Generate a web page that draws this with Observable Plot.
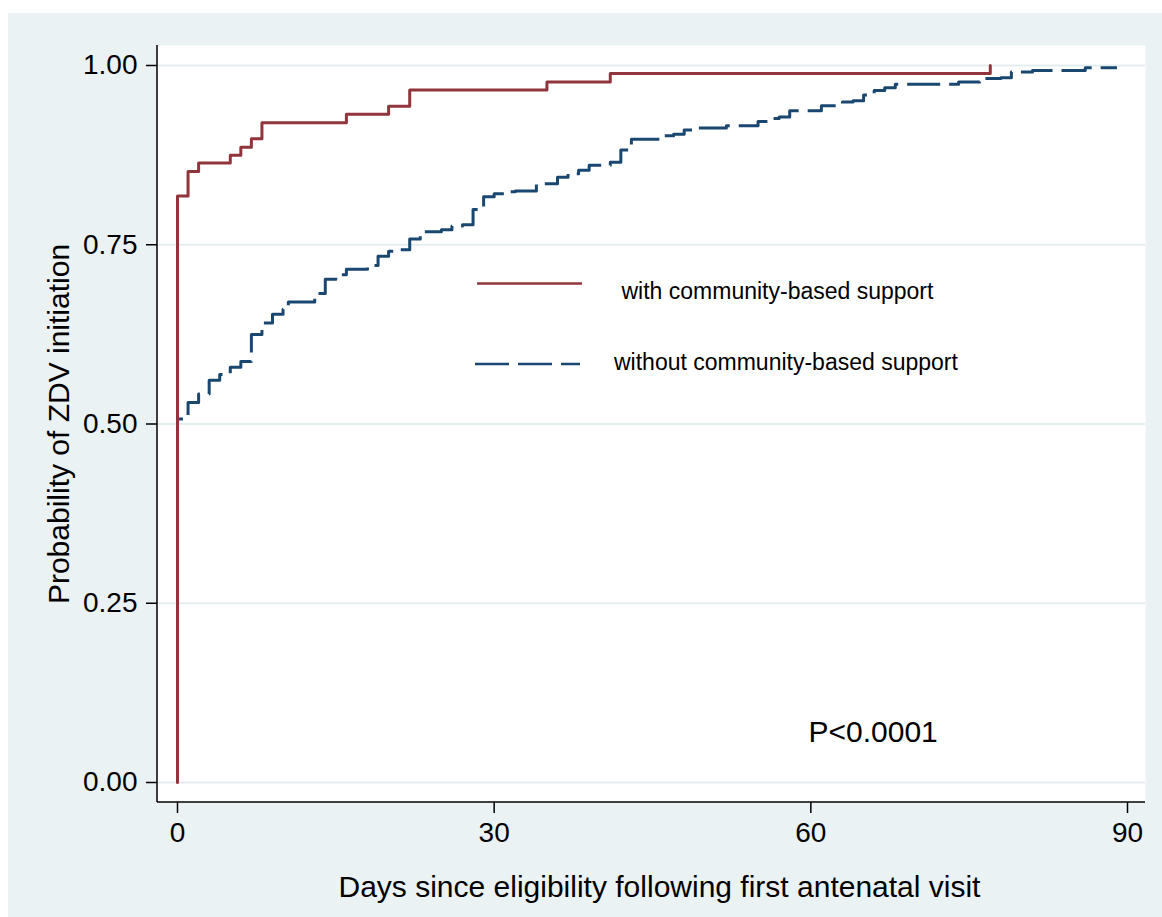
<!DOCTYPE html>
<html><head><meta charset="utf-8">
<script src="https://cdn.jsdelivr.net/npm/d3@7"></script>
<script src="https://cdn.jsdelivr.net/npm/@observablehq/plot@0.6"></script>
<style>
html,body{margin:0;padding:0;background:#fff;}
#chart{position:absolute;left:8px;top:13px;width:1154px;height:904px;background:#eaf2f3;}
#chart svg text{font-family:"Liberation Sans",Arial,Helvetica,sans-serif;}
</style></head><body><div id="chart"></div>
<script>
// Kaplan-Meier style cumulative probability of ZDV initiation
const withDays = [0, 0, 1, 2, 5, 6, 7, 8, 16, 20, 22, 35, 41, 77];
const withProb = [0, 0.818, 0.852, 0.864, 0.875, 0.886, 0.898, 0.920, 0.932, 0.943, 0.966, 0.977, 0.989, 1.000];

const withoutDays = [0, 0, 1, 2, 3, 4, 5, 6, 7, 8, 9, 10, 10.5, 13, 14, 15, 16, 18, 19, 20, 21, 22, 23, 25, 26, 27, 28, 29, 30, 31, 32, 34, 36, 37, 38, 39, 41, 42, 43, 46, 47, 48, 49, 52, 55, 56, 57, 58, 61, 63, 64, 65, 66, 67, 68, 74, 76, 78, 79, 81, 86, 89];
const withoutProb = [0, 0.507, 0.530, 0.542, 0.561, 0.569, 0.579, 0.587, 0.625, 0.641, 0.653, 0.660, 0.670, 0.682, 0.702, 0.708, 0.716, 0.721, 0.734, 0.741, 0.743, 0.758, 0.768, 0.771, 0.776, 0.778, 0.799, 0.817, 0.821, 0.824, 0.825, 0.835, 0.844, 0.849, 0.854, 0.861, 0.865, 0.882, 0.897, 0.902, 0.904, 0.910, 0.913, 0.916, 0.922, 0.926, 0.928, 0.937, 0.944, 0.949, 0.951, 0.959, 0.965, 0.969, 0.974, 0.977, 0.982, 0.983, 0.991, 0.993, 0.997, 0.997];

const xTicks = [0, 30, 60, 90];
const yTicks = [0, 0.25, 0.5, 0.75, 1];
const seriesLabels = ["with community-based support", "without community-based support"];
const xTitle = "Days since eligibility following first antenatal visit";
const yTitle = "Probability of ZDV initiation";
const annotation = "P<0.0001";

const RED = "#90353b", BLUE = "#1a476f";

const withData = withDays.map((d, i) => ({day: d, p: withProb[i]}));
const withoutData = withoutDays.map((d, i) => ({day: d, p: withoutProb[i]}));

const W = 1154, H = 904, mL = 149, mR = 17, mT = 32, mB = 115;

const chart = Plot.plot({
  width: W, height: H,
  marginLeft: mL, marginRight: mR, marginTop: mT, marginBottom: mB,
  insetLeft: 20, insetRight: 18, insetTop: 20, insetBottom: 20,
  style: {background: "transparent", fontFamily: "Liberation Sans, Arial, sans-serif", color: "black", overflow: "visible"},
  x: {domain: [0, 90]},
  y: {domain: [0, 1]},
  marks: [
    Plot.frame({fill: "white", stroke: null}),
    Plot.gridY(yTicks, {stroke: "#e4edee", strokeOpacity: 1, strokeWidth: 2}),
    Plot.line(withoutData, {x: "day", y: "p", curve: "step-after", stroke: BLUE, strokeWidth: 3, strokeDasharray: "33,9", strokeLinecap: "butt"}),
    Plot.line(withData, {x: "day", y: "p", curve: "step-after", stroke: RED, strokeWidth: 3}),
    Plot.axisY(yTicks, {tickFormat: d3.format(".2f"), tickSize: 11, tickPadding: 9, fontSize: 28, label: null, stroke: "black", strokeWidth: 1.5}),
    Plot.axisX(xTicks, {tickFormat: d3.format("d"), tickSize: 11, tickPadding: 9, fontSize: 28, label: null, stroke: "black", strokeWidth: 1.5})
  ]
});

document.getElementById("chart").appendChild(chart);

const svg = d3.select(chart);
// axis lines along the plot region's left and bottom edges
svg.append("line").attr("x1", mL).attr("x2", mL).attr("y1", mT).attr("y2", H - mB)
  .attr("stroke", "black").attr("stroke-width", 1.5);
svg.append("line").attr("x1", mL).attr("x2", W - mR).attr("y1", H - mB).attr("y2", H - mB)
  .attr("stroke", "black").attr("stroke-width", 1.5);

// axis titles
svg.append("text").attr("transform", "translate(60.5,411) rotate(-90)")
  .attr("text-anchor", "middle").attr("font-size", 30).attr("fill", "black").text(yTitle);
svg.append("text").attr("x", 651.5).attr("y", 884)
  .attr("text-anchor", "middle").attr("font-size", 30).attr("fill", "black").text(xTitle);

// legend inside the plot region
const lg = svg.append("g");
lg.append("line").attr("x1", 469).attr("x2", 574).attr("y1", 270.5).attr("y2", 270.5)
  .attr("stroke", RED).attr("stroke-width", 2.5);
lg.append("line").attr("x1", 467).attr("x2", 572).attr("y1", 351).attr("y2", 351)
  .attr("stroke", BLUE).attr("stroke-width", 2.5).attr("stroke-dasharray", "34,9");
lg.append("text").attr("x", 613.5).attr("y", 285.5).attr("text-anchor", "start")
  .attr("font-size", 23).attr("fill", "black").text(seriesLabels[0]);
lg.append("text").attr("x", 606).attr("y", 357).attr("text-anchor", "start")
  .attr("font-size", 23).attr("fill", "black").text(seriesLabels[1]);

// annotation
svg.append("text").attr("x", 800.5).attr("y", 729).attr("text-anchor", "start")
  .attr("font-size", 30).attr("fill", "black").text(annotation);
</script>
</body></html>
